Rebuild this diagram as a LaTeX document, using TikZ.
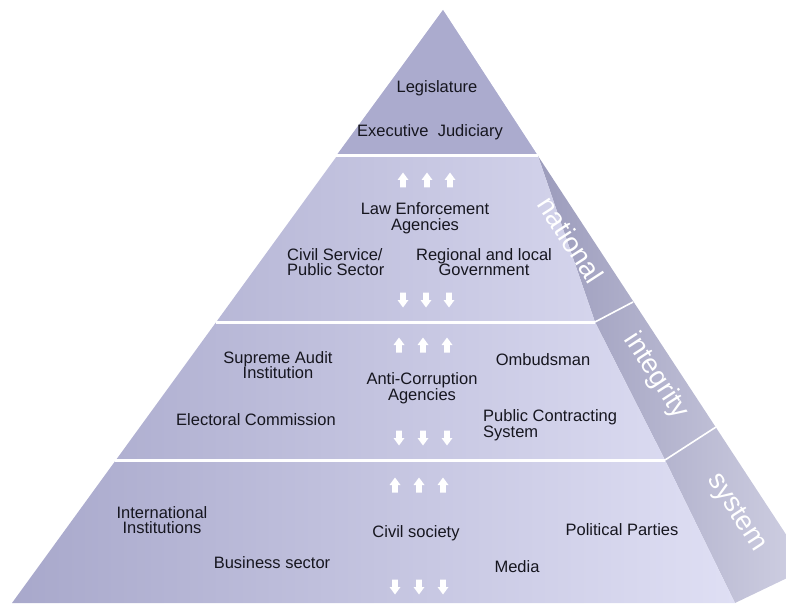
\documentclass[tikz,border=0pt]{standalone}
\usepackage{fontspec}
\setmainfont{Liberation Sans}
\usetikzlibrary{calc}
\definecolor{txt}{HTML}{16161F}
\definecolor{frontL}{HTML}{A8A8CB}
\definecolor{frontR}{HTML}{DFDFF4}
\definecolor{topt}{HTML}{ABABCE}
\definecolor{sideL}{HTML}{9C9CBC}
\definecolor{sideR}{HTML}{D0D0E3}
\tikzset{
  lbl/.style={text=txt, font=\fontsize{16.5}{15.5}\selectfont, align=center, inner sep=0pt},
  lbll/.style={lbl, align=left},
  sidelbl/.style={text=white, font=\fontsize{27.5}{27.5}\selectfont, rotate=-57, inner sep=0pt},
  divider/.style={white, line width=3pt},
  sidediv/.style={white, line width=1.6pt},
  uparr/.pic={\fill[white] (-2.8,7.5) -- (-2.8,0) -- (-5.5,0) -- (0,-7.5) -- (5.5,0) -- (2.8,0) -- (2.8,7.5) -- cycle;},
  dnarr/.pic={\fill[white] (-2.8,-7.5) -- (-2.8,0) -- (-5.5,0) -- (0,7.5) -- (5.5,0) -- (2.8,0) -- (2.8,-7.5) -- cycle;}
}
\begin{document}
\begin{tikzpicture}[x=1pt,y=-1pt]
\useasboundingbox (0,0) rectangle (786,609);
% outline points
\coordinate (A) at (443,10);
\coordinate (L) at (12,603);
\coordinate (R) at (735,603);
\coordinate (B) at (808,568);
% tier points: left edge, front/side edge, outer edge
\coordinate (L0) at (336,156);
\coordinate (P0) at (538,156);
\coordinate (L1) at (216,322);
\coordinate (P1) at (595,322);
\coordinate (O1) at (633,302);
\coordinate (L2) at (115,460);
\coordinate (P2) at (665,460);
\coordinate (O2) at (716,427);
\begin{scope}
\clip (0,0) rectangle (786,609);
% side face
\shade[left color=sideL, right color=sideR] (P0) -- (P1) -- (P2) -- (R) -- (B) -- cycle;
% front face
\shade[left color=frontL, right color=frontR] (A) -- (L) -- (R) -- (P2) -- (P1) -- (P0) -- cycle;
% top tier
\fill[topt] (A) -- (L0) -- (P0) -- cycle;
% dividers
\draw[divider] (L0) -- (P0);
\draw[divider] (L1) -- (P1);
\draw[divider] (L2) -- (P2);
\draw[sidediv] (P1) -- (O1);
\draw[sidediv] (P2) -- (O2);
\end{scope}
% arrows
\foreach \x/\y in {403/180,427/180,450/180, 399/345,423/345,447/345, 395/485,419/485,443/485}{
  \pic at (\x,\y) {uparr};
}
\foreach \x/\y in {403/300,426/300,449/300, 399/438,423/438,447/438, 395/587,419/587,443/587}{
  \pic at (\x,\y) {dnarr};
}
% texts
\node[lbl] (leg) at (437,88) {Legislature};
\node[lbl] (exe) at (430,132) {Executive\ \ Judiciary};
\node[lbl] (law) at (425,218) {Law Enforcement\\Agencies};
\node[lbll, anchor=west] (civ) at (287,262) {Civil Service/\\Public Sector};
\node[lbl] (reg) at (484,262) {Regional and local\\Government};
\node[lbl] (sup) at (278,365) {Supreme Audit\\Institution};
\node[lbl] (omb) at (543,360) {Ombudsman};
\node[lbl] (anti) at (422,388) {Anti-Corruption\\Agencies};
\node[lbl] (ele) at (256,420) {Electoral Commission};
\node[lbll, anchor=west] (pub) at (483,425) {Public Contracting\\System};
\node[lbl] (intl) at (162,520) {International\\Institutions};
\node[lbl] (bus) at (272,563) {Business sector};
\node[lbl] (cs) at (416,533) {Civil society};
\node[lbl] (media) at (517,567) {Media};
\node[lbl] (pol) at (622,530) {Political Parties};
\node[sidelbl] (nat) at (571,240) {national};
\node[sidelbl] (integ) at (656,376) {integrity};
\node[sidelbl] (sys) at (736,513) {system};
\end{tikzpicture}
\end{document}
